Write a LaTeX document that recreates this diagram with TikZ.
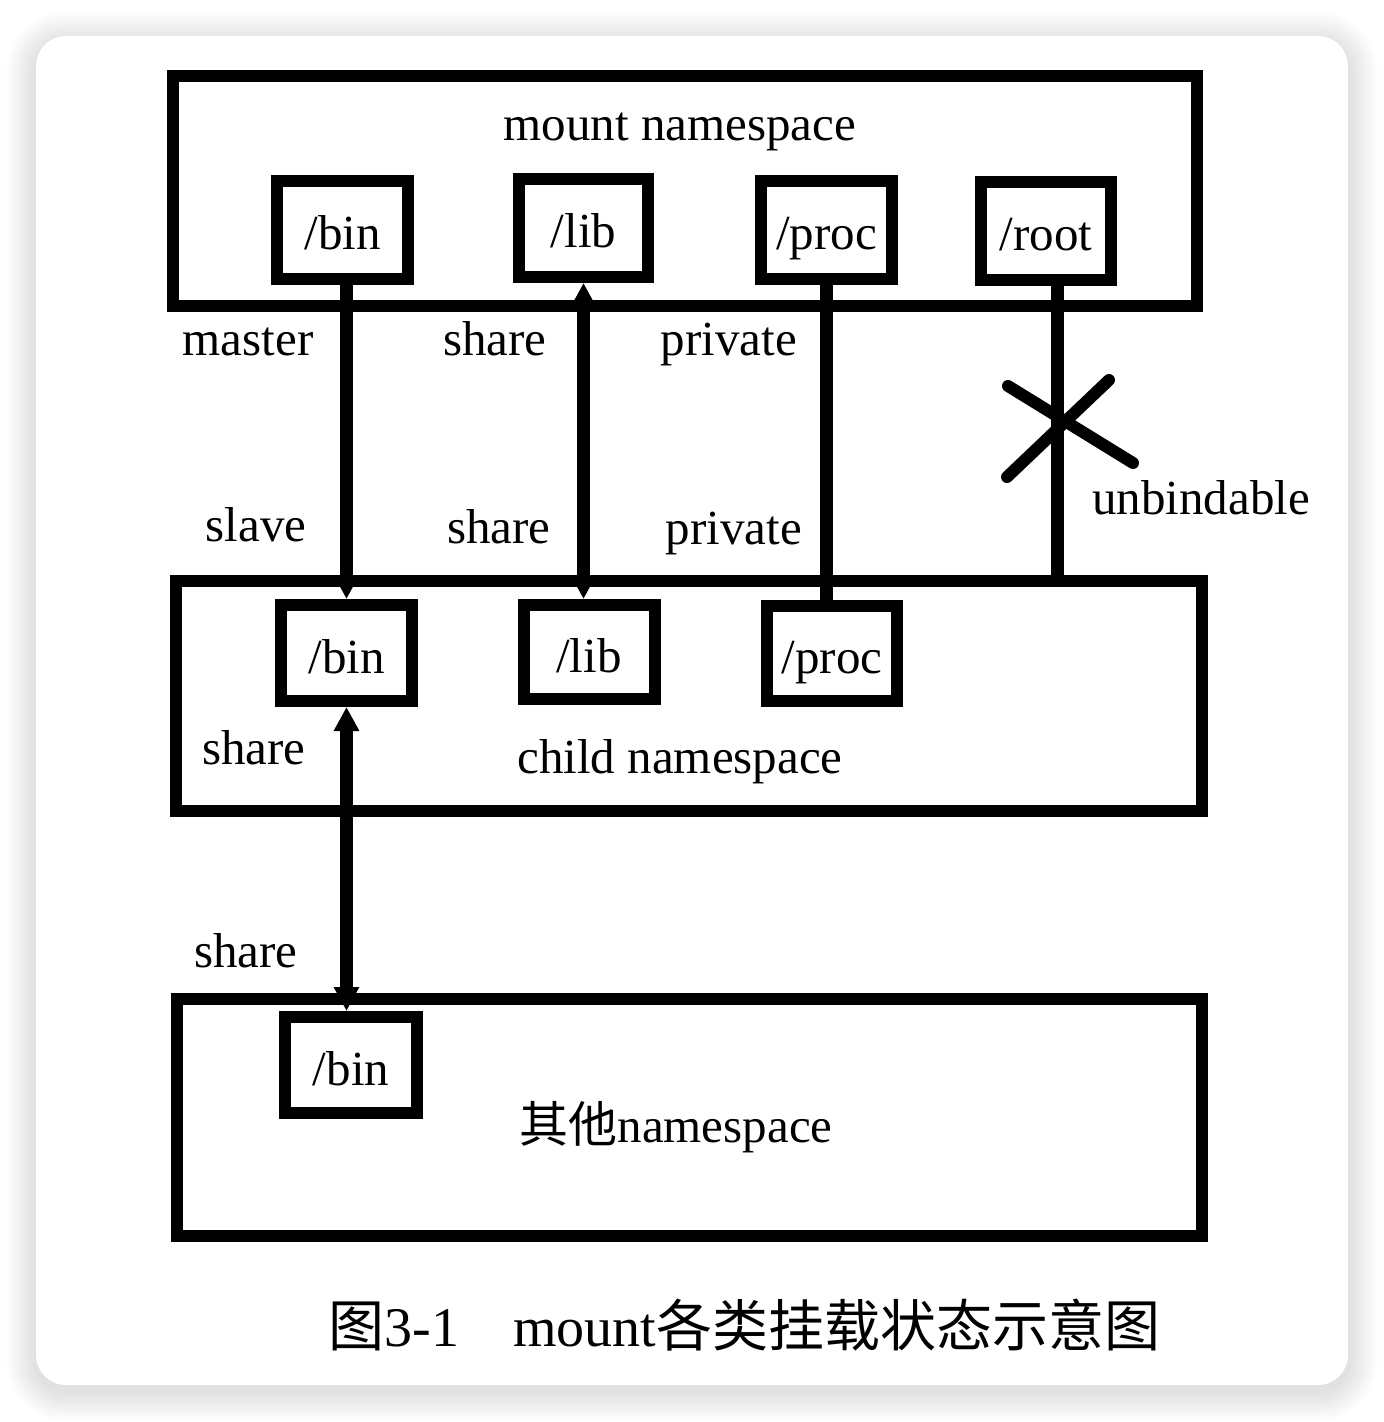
\documentclass[tikz,border=0pt]{standalone}
\usepackage{fontspec}
\setmainfont{Liberation Serif}
\newfontfamily\cjk{Noto Sans CJK SC}
\usetikzlibrary{arrows.meta,calc}
\begin{document}
\begin{tikzpicture}[x=0.5pt,y=-0.5pt,
  lbl/.style={anchor=base,inner sep=0pt,font=\fontsize{24.5}{29}\selectfont},
  bigbox/.style={draw=black,line width=6pt,rectangle,inner sep=0pt,fill=white},
  mbox/.style={draw=black,line width=6pt,rectangle,inner sep=0pt,fill=white,
    minimum width=65.5pt,minimum height=49pt,text height=22pt,text depth=2pt,
    font=\fontsize{24.5}{29}\selectfont},
  link/.style={line width=6.5pt,draw=black},
  crossline/.style={line width=6pt,line cap=round,draw=black},
  >={Triangle[length=12pt,width=12pt]}
]
\useasboundingbox (0,0) rectangle (1384,1422);
\fill[white] (0,0) rectangle (1384,1422);
% card shadow
\foreach \i in {1,...,15}{
  \pgfmathsetmacro\r{15+\i}
  \fill[black,opacity=0.009,rounded corners=\r pt] (36-2*\i,36-2*\i+6) rectangle (1348+2*\i,1385+2*\i+6);
}
\fill[white,rounded corners=15pt] (36,36) rectangle (1348,1385);

% namespaces
\node[bigbox,minimum width=512pt,minimum height=115pt] (mns) at (685,191) {};
\node[lbl] (mnst) at (680,141) {mount namespace};
\node[mbox] (tbin) at (342.5,230) {/bin};
\node[mbox,minimum width=64.5pt] (tlib) at (583.5,228) {/lib};
\node[mbox] (tproc) at (826.5,230) {/proc};
\node[mbox,minimum width=65pt] (troot) at (1046,231) {/root};

\node[bigbox,minimum width=513pt,minimum height=115pt] (cns) at (689,696) {};
\node[lbl] (cnst) at (680,773) {child namespace};
\node[mbox,minimum height=48pt] (cbin) at (346.5,653) {/bin};
\node[mbox,minimum height=47pt] (clib) at (589,652) {/lib};
\node[mbox,minimum width=65pt,minimum height=47.5pt] (cproc) at (832,653.5) {/proc};

\node[bigbox,minimum width=512.5pt,minimum height=118.5pt] (ons) at (689.5,1117.5) {};
\node[lbl] (onst) at (676,1142) {{\cjk 其他}namespace};
\node[mbox,minimum width=66pt,minimum height=48pt] (obin) at (351,1065) {/bin};

% labels
\node[lbl] (lmaster) at (248,356) {master};
\node[lbl] (lshare1) at (495,356) {share};
\node[lbl] (lpriv1) at (729,356) {private};
\node[lbl] (lslave) at (256,541) {slave};
\node[lbl] (lshare2) at (499,543) {share};
\node[lbl] (lpriv2) at (734,544) {private};
\node[lbl] (lunb) at (1201,514) {unbindable};
\node[lbl] (lshare3) at (254,764) {share};
\node[lbl] (lshare4) at (246,967) {share};

% connectors
\draw[link,->] (cbin.north |- tbin.south) -- (cbin.north);
\draw[link,<->] (tlib.south) -- (tlib.south |- clib.north);
\draw[link] (tproc.south) -- (tproc.south |- cproc.north);
\draw[link] ([xshift=5.5pt]troot.south) -- ([xshift=5.5pt]troot.south |- cns.north);
\draw[link,<->] (cbin.south) -- (cbin.south |- obin.north);

% cross (unbindable)
\draw[crossline] (1007,477) -- (1109,380);
\draw[crossline] (1008,386) -- (1133,463);

% caption
\node[anchor=base west,inner sep=0pt,font=\fontsize{28}{34}\selectfont] (cap) at (328,1346)
  {{\cjk 图}3-1\hspace{27pt}mount{\cjk 各类挂载状态示意图}};
\end{tikzpicture}
\end{document}
